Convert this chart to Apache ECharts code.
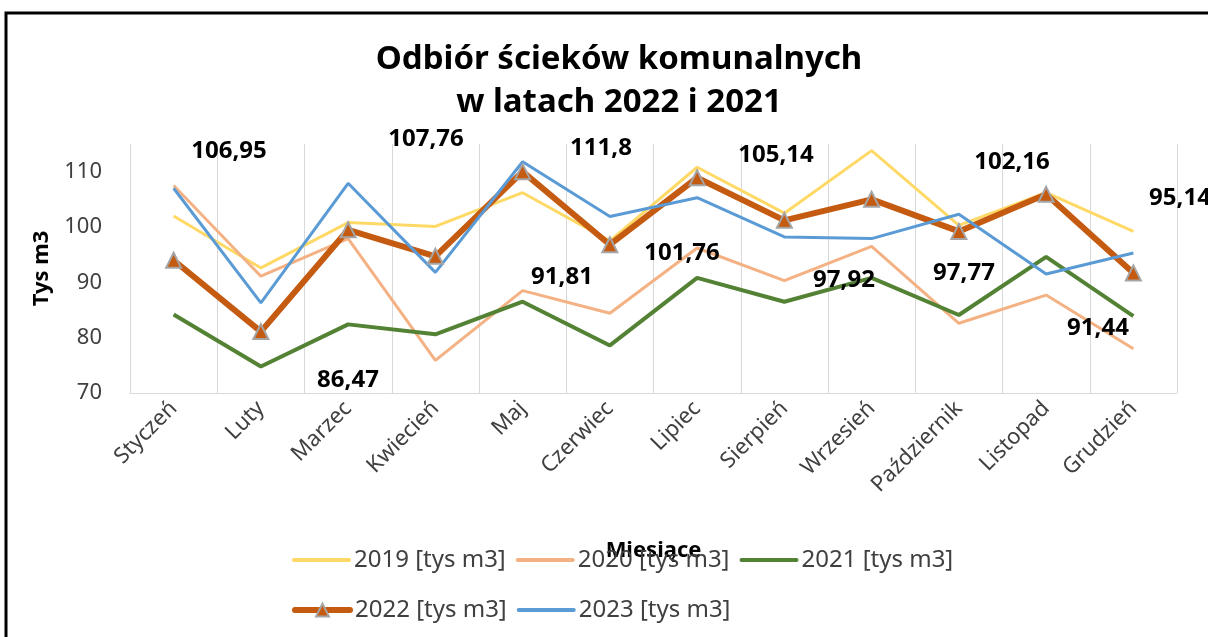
<!DOCTYPE html>
<html>
<head>
<meta charset="utf-8">
<title>Odbiór ścieków komunalnych</title>
<script src="https://cdn.jsdelivr.net/npm/echarts@6/dist/echarts.min.js"></script>
<style>
  html, body { margin: 0; padding: 0; background: #fff; }
  #chart { width: 1208px; height: 637px; }
</style>
</head>
<body>
<div id="chart"></div>
<script>
// months (category axis)
var months = ['Styczeń', 'Luty', 'Marzec', 'Kwiecień', 'Maj', 'Czerwiec', 'Lipiec', 'Sierpień', 'Wrzesień', 'Październik', 'Listopad', 'Grudzień']

// series values, tys m3
var s2019 = [102.0, 92.6, 100.8, 100.1, 106.2, 97.5, 110.8, 102.5, 113.8, 100.3, 106.2, 99.2]
var s2020 = [107.5, 91.1, 97.9, 75.9, 88.5, 84.4, 96.2, 90.3, 96.5, 82.6, 87.7, 78.0]
var s2021 = [84.2, 74.8, 82.4, 80.6, 86.5, 78.6, 90.8, 86.5, 90.8, 84.1, 94.6, 83.9]
var s2022 = [94.0, 81.1, 99.5, 94.7, 110.0, 96.8, 108.9, 101.2, 105.0, 99.2, 105.9, 91.7]
var s2023 = [107.0, 86.3, 107.9, 91.8, 111.8, 101.9, 105.3, 98.2, 97.9, 102.3, 91.5, 95.3]

// floating value labels shown on the chart
var noteValues = [106.95, 86.47, 107.76, 91.81, 111.8, 101.76, 105.14, 97.92, 97.77, 102.16, 91.44, 95.14]

var seriesNames = ['2019 [tys m3]', '2020 [tys m3]', '2021 [tys m3]', '2022 [tys m3]', '2023 [tys m3]']

// where the floating labels sit (px)
var notePos = [
  [229, 151], [348, 380], [426, 139], [562, 277], [601, 148], [682, 253],
  [776, 155], [844, 280], [964, 273], [1012, 162], [1098, 328], [1180, 198]
]

var FONT = '"Noto Sans", "Open Sans", sans-serif'
var TXT = '#404040'

function fmt (v) {
  return String(v).replace('.', ',')
}

function plainLine (name, data, color, width) {
  return {
    name: name,
    type: 'line',
    data: data,
    symbol: 'none',
    lineStyle: { color: color, width: width },
    itemStyle: { color: color },
    emphasis: { disabled: true }
  }
}

// legend entry: thick line only (no dot) unless it is the 2022 series
function legendItem (name) {
  if (name === seriesNames[3]) {
    return { name: name, lineStyle: { width: 6, cap: 'round' } }
  }
  return { name: name, itemStyle: { opacity: 0 }, lineStyle: { width: 4, cap: 'round' } }
}

var chart = echarts.init(document.getElementById('chart'), null, { renderer: 'canvas' })

var graphics = [
  {
    type: 'rect',
    shape: { x: 6, y: 13, width: 1220, height: 650 },
    style: { fill: null, stroke: '#000', lineWidth: 3 },
    silent: true
  }
]
noteValues.forEach(function (v, i) {
  graphics.push({
    type: 'text',
    x: notePos[i][0],
    y: notePos[i][1],
    style: {
      text: fmt(v),
      fill: '#000',
      font: 'bold 24px ' + FONT,
      textAlign: 'center',
      textVerticalAlign: 'middle'
    },
    z: 100
  })
})

var legendBase = {
  left: 287,
  itemWidth: 55,
  itemHeight: 16,
  itemGap: 10,
  textStyle: { fontSize: 24, color: TXT, fontFamily: FONT }
}

chart.setOption({
  backgroundColor: '#fff',
  animation: false,
  textStyle: { fontFamily: FONT },
  title: {
    text: 'Odbiór ścieków komunalnych\nw latach 2022 i 2021',
    left: 614,
    textAlign: 'center',
    top: 33,
    textStyle: {
      fontSize: 33,
      fontWeight: 'bold',
      color: '#000',
      lineHeight: 43,
      fontFamily: FONT
    }
  },
  legend: [
    Object.assign({}, legendBase, { top: 543, data: seriesNames.slice(0, 3).map(legendItem) }),
    Object.assign({}, legendBase, { top: 593, data: seriesNames.slice(3).map(legendItem) })
  ],
  grid: { left: 130, right: 31, top: 144, bottom: 244 },
  xAxis: {
    type: 'category',
    data: months,
    boundaryGap: true,
    name: 'Miesiące',
    nameLocation: 'middle',
    nameGap: 147,
    nameTextStyle: { fontSize: 22, fontWeight: 'bold', color: '#000' },
    axisLine: { show: true, lineStyle: { color: '#D9D9D9', width: 1 } },
    axisTick: { show: false },
    axisLabel: { interval: 0, rotate: 45, fontSize: 22, color: TXT, margin: 12 },
    splitLine: { show: true, lineStyle: { color: '#D9D9D9', width: 1 } }
  },
  yAxis: {
    type: 'value',
    min: 70,
    max: 115,
    interval: 10,
    name: 'Tys m3',
    nameLocation: 'middle',
    nameGap: 77,
    nameMoveOverlap: false,
    nameTextStyle: { fontSize: 22, fontWeight: 'bold', color: '#000' },
    axisLine: { show: false },
    axisTick: { show: false },
    axisLabel: { fontSize: 22, color: TXT, margin: 28, showMaxLabel: false },
    splitLine: { show: false }
  },
  series: [
    plainLine(seriesNames[0], s2019, '#FFD966', 3),
    plainLine(seriesNames[1], s2020, '#F4B183', 3),
    plainLine(seriesNames[2], s2021, '#548235', 4),
    {
      name: seriesNames[3],
      type: 'line',
      data: s2022,
      symbol: 'triangle',
      symbolSize: 15,
      lineStyle: { color: '#C55A11', width: 6 },
      itemStyle: { color: '#C55A11', borderColor: '#A5A5A5', borderWidth: 2 },
      emphasis: { disabled: true }
    },
    plainLine(seriesNames[4], s2023, '#5B9BD5', 3)
  ],
  graphic: graphics
})
</script>
</body>
</html>
